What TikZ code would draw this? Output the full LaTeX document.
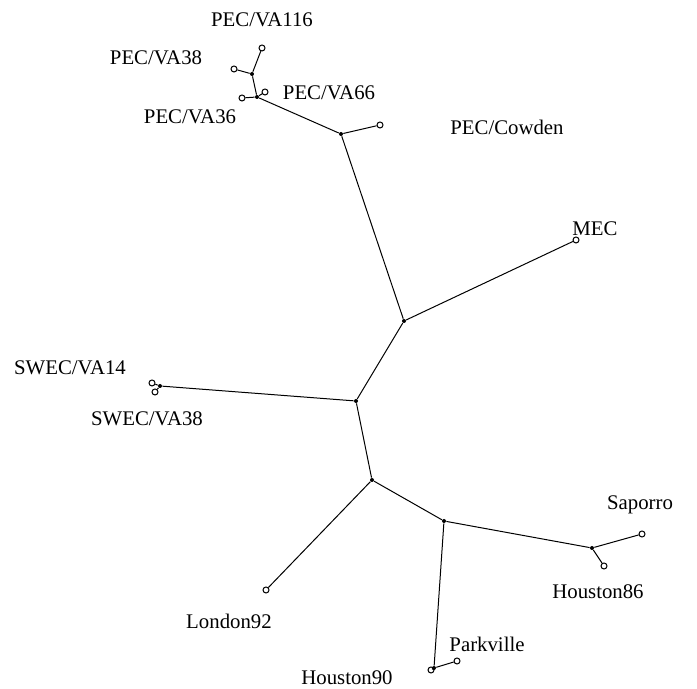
\documentclass[tikz,border=0pt]{standalone}
\usepackage{fontspec}
\setmainfont{Liberation Serif}

\begin{document}
\begin{tikzpicture}[x=0.5pt,y=-0.5pt]
\useasboundingbox (0,0) rectangle (697,689);
 \begin{scope}[every node/.style={font=\fontsize{10.4}{12}\selectfont, inner sep=0pt}]
  \node (n116) at (262,20) {PEC/VA116};
  \node (n38) at (156,58) {PEC/VA38};
  \node (n66) at (329,93) {PEC/VA66};
  \node (n36) at (190,117) {PEC/VA36};
  \node (ncow) at (507,127) {PEC/Cowden};
  \node (nmec) at (595,229) {MEC};
  \node (ns14) at (70,368) {SWEC/VA14};
  \node (ns38) at (147,419) {SWEC/VA38};
  \node (nlon) at (229,621) {London92};
  \node (nsap) at (640,505) {Saporro};
  \node (nh86) at (598,592) {Houston86};
  \node (npark) at (487,644) {Parkville};
  \node (nh90) at (347,678) {Houston90};
 \end{scope}
 \begin{scope}[every node/.style={circle, draw, fill=white, line width=0.5pt, inner sep=0pt, minimum size=3pt}]
  \node (l116) at (262,48) {};
  \node (l38) at (234,69) {};
  \node (l36) at (242,98) {};
  \node (l66) at (265,92) {};
  \node (lcow) at (380,125) {};
  \node (lmec) at (576,240) {};
  \node (ls14) at (152,383) {};
  \node (ls38) at (155,392) {};
  \node (llon) at (266,590) {};
  \node (lsap) at (642,534) {};
  \node (lh86) at (604,566) {};
  \node (lpark) at (457,661) {};
  \node (lh90) at (431,670) {};
 \end{scope}
 \begin{scope}[every node/.style={circle, fill, inner sep=0pt, minimum size=2pt}]
  \node (ja) at (252,74) {};
  \node (jb) at (257,97) {};
  \node (jc) at (341,134) {};
  \node (jd) at (404,321) {};
  \node (je) at (356,401) {};
  \node (jf) at (160,386) {};
  \node (jg) at (372,480) {};
  \node (jh) at (444,521) {};
  \node (ji) at (592,548) {};
  \node (jj) at (434,668) {};
 \end{scope}
 \begin{scope}[line width=0.5pt]
  \path [-] (ja) edge (l116);
  \path [-] (ja) edge (l38);
  \path [-] (ja) edge (jb);
  \path [-] (jb) edge (l36);
  \path [-] (jb) edge (l66);
  \path [-] (jb) edge (jc);
  \path [-] (jc) edge (lcow);
  \path [-] (jc) edge (jd);
  \path [-] (jd) edge (lmec);
  \path [-] (jd) edge (je);
  \path [-] (je) edge (jf);
  \path [-] (jf) edge (ls14);
  \path [-] (jf) edge (ls38);
  \path [-] (je) edge (jg);
  \path [-] (jg) edge (llon);
  \path [-] (jg) edge (jh);
  \path [-] (jh) edge (ji);
  \path [-] (ji) edge (lsap);
  \path [-] (ji) edge (lh86);
  \path [-] (jh) edge (jj);
  \path [-] (jj) edge (lpark);
  \path [-] (jj) edge (lh90);
 \end{scope}
\end{tikzpicture}
\end{document}
